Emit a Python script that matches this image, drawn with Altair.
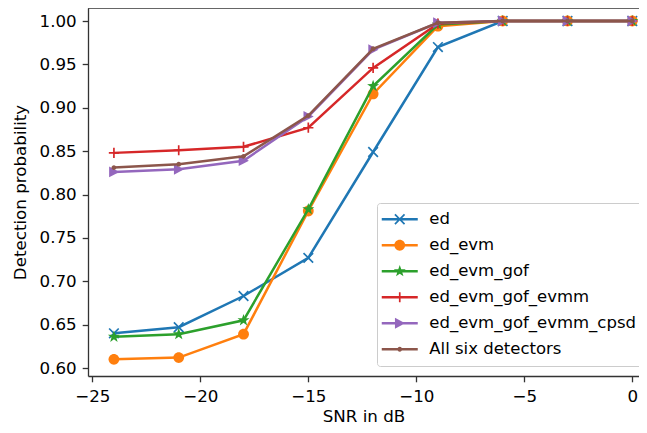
import math
import altair as alt
import pandas as pd

# ---------------- data ----------------
snr = [-24, -21, -18, -15, -12, -9, -6, -3, 0]
series_names = ["ed", "ed_evm", "ed_evm_gof", "ed_evm_gof_evmm",
                "ed_evm_gof_evmm_cpsd", "All six detectors"]
ed = [0.640, 0.647, 0.683, 0.727, 0.849, 0.970, 1.000, 1.000, 1.000]
ed_evm = [0.610, 0.612, 0.639, 0.781, 0.916, 0.994, 1.000, 1.000, 1.000]
ed_evm_gof = [0.636, 0.639, 0.655, 0.783, 0.925, 0.996, 1.000, 1.000, 1.000]
ed_evm_gof_evmm = [0.848, 0.851, 0.855, 0.877, 0.946, 0.997, 1.000, 1.000, 1.000]
ed_evm_gof_evmm_cpsd = [0.826, 0.829, 0.839, 0.890, 0.967, 0.998, 1.000, 1.000, 1.000]
all_six = [0.831, 0.835, 0.844, 0.891, 0.968, 0.998, 1.000, 1.000, 1.000]
values = [ed, ed_evm, ed_evm_gof, ed_evm_gof_evmm, ed_evm_gof_evmm_cpsd, all_six]

colors = ["#1f77b4", "#ff7f0e", "#2ca02c", "#d62728", "#9467bd", "#8c564b"]

rows = []
for name, vals in zip(series_names, values):
    for s, v in zip(snr, vals):
        rows.append({"snr": s, "pd": v, "series": name})
df = pd.DataFrame(rows)

# ---------------- marker shapes (unit = 6px at size 144) ----------------
def f(v):
    return f"{v:.3f}"

def poly(pts):
    return "M" + "L".join(f"{f(x)},{f(y)}" for x, y in pts) + "Z"

def circle(r):
    return f"M{f(r)},0A{f(r)},{f(r)},0,1,1,{f(-r)},0A{f(r)},{f(r)},0,1,1,{f(r)},0Z"

a, d = 0.8, 0.1
x_mark = poly([(-a + d, -a - d), (a + d, a - d), (a - d, a + d), (-a - d, -a + d)]) + \
         poly([(a + d, -a + d), (-a + d, a + d), (-a - d, a - d), (a - d, -a - d)])
circ_mark = circle(0.9)
star_pts = []
for k in range(10):
    ang = math.radians(-90 + 36 * k)
    rad = 1.05 if k % 2 == 0 else 0.42
    star_pts.append((rad * math.cos(ang), rad * math.sin(ang)))
star_mark = poly(star_pts)
p, t = 0.85, 0.14
plus_mark = poly([(-p, -t), (p, -t), (p, t), (-p, t)]) + poly([(-t, -p), (t, -p), (t, p), (-t, p)])
tri_mark = poly([(-0.8, -0.9), (0.9, 0.0), (-0.8, 0.9)])
dot_mark = circle(0.4)
markers = [x_mark, circ_mark, star_mark, plus_mark, tri_mark, dot_mark]

line_rect = poly([(-3, -0.21), (3, -0.21), (3, 0.21), (-3, 0.21)])
legend_paths = [line_rect + m for m in markers]

# ---------------- chart ----------------
W, H = 551, 368
FONT = "DejaVu Sans"
FS = 16.7
AX = "#333333"

x_enc = alt.X(
    "snr:Q",
    scale=alt.Scale(domain=[-25.2, 0.31], nice=False, zero=False),
    axis=alt.Axis(
        values=[-25, -20, -15, -10, -5, 0],
        labelExpr="replace(format(datum.value, 'd'), '-', '\u2212')",
        grid=False, tickSize=5.8, tickWidth=1.3, tickColor=AX,
        domainColor=AX, domainWidth=1.3, labelPadding=7,
        labelFont=FONT, labelFontSize=FS, labelColor="black",
        titleFont=FONT, titleFontSize=FS, titleFontWeight="normal",
        titleColor="black", titlePadding=3,
    ),
    title="SNR in dB",
)
y_enc = alt.Y(
    "pd:Q",
    scale=alt.Scale(domain=[0.5908, 1.015], nice=False, zero=False),
    axis=alt.Axis(
        values=[0.60, 0.65, 0.70, 0.75, 0.80, 0.85, 0.90, 0.95, 1.00],
        format=".2f",
        grid=False, tickSize=5.8, tickWidth=1.3, tickColor=AX,
        domainColor=AX, domainWidth=1.3, labelPadding=6,
        labelFont=FONT, labelFontSize=FS, labelColor="black",
        titleFont=FONT, titleFontSize=FS, titleFontWeight="normal",
        titleColor="black", titlePadding=10,
    ),
    title="Detection probability",
)

layers = []
for name, col, mk in zip(series_names, colors, markers):
    base = alt.Chart(df).transform_filter(alt.datum.series == name)
    layers.append(base.mark_line(color=col, strokeWidth=2.5).encode(x=x_enc, y=y_enc))
    layers.append(base.mark_point(shape=mk, filled=True, size=144, color=col,
                                  opacity=1, strokeWidth=0).encode(x=x_enc, y=y_enc))

leg_kwargs = dict(
    title=None, orient="none", legendX=289, legendY=195,
    padding=8, symbolOffset=6.5, labelOffset=21.3, rowPadding=9,
    symbolSize=144, symbolStrokeWidth=0, symbolOpacity=1,
    labelFont=FONT, labelFontSize=16.5, labelColor="black", labelLimit=400,
    strokeColor="#cccccc", fillColor="rgba(255,255,255,0.8)", cornerRadius=3,
)
legend_layer = alt.Chart(df).transform_filter("false").mark_point(
    filled=True, size=144, opacity=1, strokeWidth=0
).encode(
    color=alt.Color("series:N", scale=alt.Scale(domain=series_names, range=colors),
                    legend=alt.Legend(**leg_kwargs)),
    shape=alt.Shape("series:N", scale=alt.Scale(domain=series_names, range=legend_paths),
                    legend=alt.Legend(**leg_kwargs)),
)

top_spine = alt.Chart(pd.DataFrame({"k": [0]})).mark_rule(color=AX, strokeWidth=1.3).encode(
    x=alt.value(0), x2=alt.value(W), y=alt.value(0)
)

chart = alt.layer(*layers, legend_layer, top_spine).properties(
    width=W, height=H,
    autosize=alt.AutoSizeParams(type="none"),
    padding={"left": 80, "top": 0, "right": 0, "bottom": 49},
    background="white",
).configure_view(stroke=None)

chart.save("out.html", embed_options={"renderer": "svg", "actions": False})
